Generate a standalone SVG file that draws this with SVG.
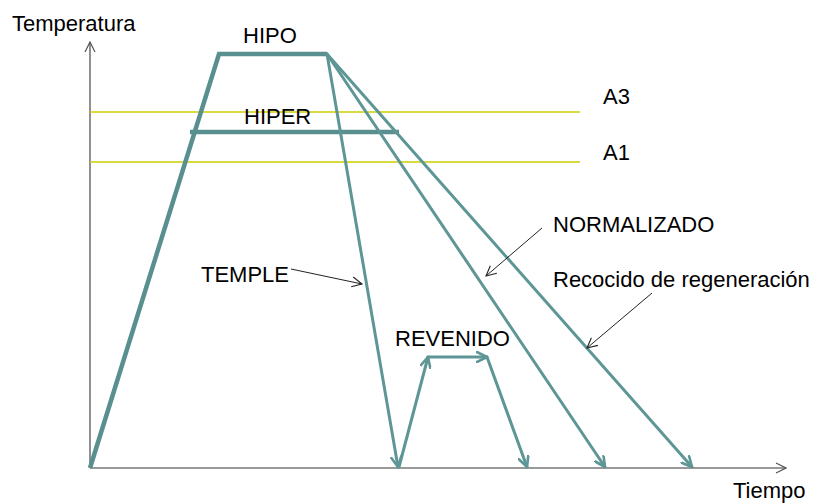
<svg xmlns="http://www.w3.org/2000/svg" width="822" height="503" viewBox="0 0 822 503">
<style>
text{font-family:"Liberation Sans",Arial,sans-serif;font-size:22px;fill:#000}
.t{stroke:#5e9696;stroke-width:3;fill:none;stroke-linecap:round}
.thick{stroke:#5a8f8f;stroke-width:4.5;fill:none}
.y{stroke:#cccc00;stroke-width:1.5;fill:none}
.ann{stroke:#222;stroke-width:1;fill:none}
</style>
<defs>
<marker id="ta" viewBox="0 0 12 12" refX="11" refY="6" markerWidth="12" markerHeight="12" markerUnits="userSpaceOnUse" orient="auto">
<path d="M1,1 L11,6 L1,11" fill="none" stroke="#5e9696" stroke-width="2.6" stroke-linecap="round" stroke-linejoin="round"/>
</marker>
<marker id="ka" viewBox="0 0 12 12" refX="11" refY="6" markerWidth="12" markerHeight="12" markerUnits="userSpaceOnUse" orient="auto">
<path d="M1,1 L11,6 L1,11" fill="none" stroke="#222" stroke-width="1.1"/>
</marker>
<marker id="ga" viewBox="0 0 12 12" refX="11" refY="6" markerWidth="12" markerHeight="12" markerUnits="userSpaceOnUse" orient="auto">
<path d="M1,1 L11,6 L1,11" fill="none" stroke="#555" stroke-width="1.2"/>
</marker>
</defs>
<g id="axes">
<line x1="90" y1="468" x2="90" y2="42" stroke="#555" stroke-width="1.3" marker-end="url(#ga)"/>
<line x1="90" y1="468" x2="786" y2="468" stroke="#999" stroke-width="2" marker-end="url(#ga)"/>
<text x="12" y="31">Temperatura</text>
<text x="733" y="498">Tiempo</text>
</g>
<g id="critical-lines">
<line class="y" x1="90" y1="112" x2="580" y2="112"/>
<line class="y" x1="90" y1="162" x2="580" y2="162"/>
<text x="603" y="104">A3</text>
<text x="603" y="160">A1</text>
</g>
<g id="connectors">
<polyline class="thick" points="90,468 219,54 327,54"/>
<line class="thick" x1="190" y1="132" x2="399" y2="132" stroke-width="5"/>
<line class="t" x1="327" y1="54" x2="398" y2="467" marker-end="url(#ta)"/>
<line class="t" x1="327" y1="54" x2="605" y2="467" marker-end="url(#ta)"/>
<line class="t" x1="327" y1="54" x2="692" y2="467" marker-end="url(#ta)"/>
<line class="t" x1="399" y1="467" x2="428" y2="357" marker-end="url(#ta)"/>
<line class="t" x1="428" y1="357" x2="487" y2="357" marker-end="url(#ta)"/>
<line class="t" x1="487" y1="357" x2="527" y2="467" marker-end="url(#ta)"/>
<line class="ann" x1="291" y1="269" x2="362" y2="284" marker-end="url(#ka)"/>
<line class="ann" x1="542" y1="228" x2="486" y2="276" marker-end="url(#ka)"/>
<line class="ann" x1="652" y1="293" x2="587" y2="348" marker-end="url(#ka)"/>
</g>
<g id="hipo"><text x="243" y="43">HIPO</text></g>
<g id="hiper"><text x="244" y="124">HIPER</text></g>
<g id="temple"><text x="201" y="282">TEMPLE</text></g>
<g id="revenido"><text x="395" y="346">REVENIDO</text></g>
<g id="normalizado"><text x="553" y="232">NORMALIZADO</text></g>
<g id="recocido"><text x="553" y="287">Recocido de regeneración</text></g>
</svg>
